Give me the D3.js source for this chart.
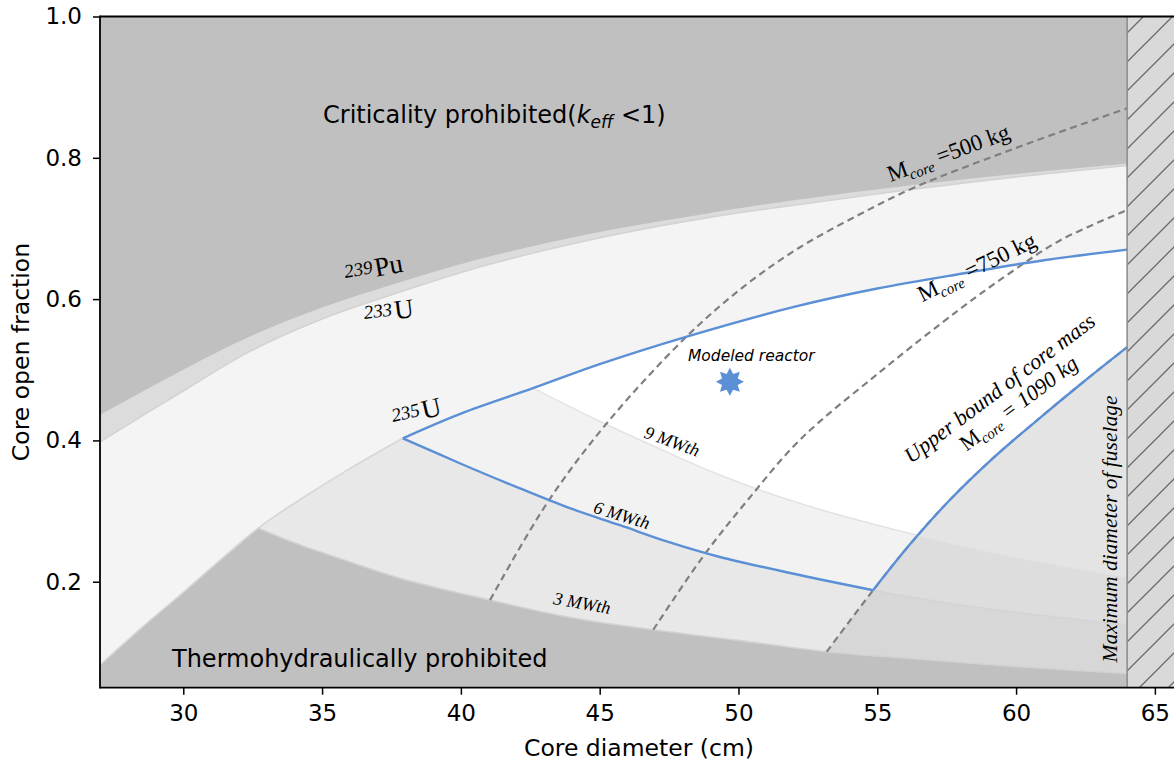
<!DOCTYPE html>
<html>
<head>
<meta charset="utf-8">
<script src="https://cdn.jsdelivr.net/npm/d3@7"></script>
<style>
  body { margin: 0; background: #fff; }
  svg text { font-family: "DejaVu Sans", sans-serif; fill: #000; }
  svg .serif { font-family: "Liberation Serif", "DejaVu Serif", serif; }
</style>
</head>
<body>
<svg id="chart"></svg>
<script>
// values: [core diameter (cm), core open fraction]
var pu239Edge = [[27,0.436],[30,0.50],[32.4,0.547],[35,0.588],[37.8,0.624],[41,0.66],[45.4,0.698],[49,0.722],[52.2,0.741],[56,0.760],[60,0.777],[64,0.792]];
var u233Edge  = [[27,0.398],[30,0.47],[32.4,0.526],[35,0.572],[37.8,0.610],[41,0.649],[45.4,0.690],[49,0.716],[52.2,0.734],[56,0.754],[60,0.773],[64,0.789]];
var u235Edge  = [[27,0.082],[28.5,0.135],[30,0.185],[32.7,0.276],[34.2,0.316],[36,0.36],[37.91,0.403],[40,0.438],[42.6,0.474],[45,0.508],[48.14,0.547],[52,0.589],[55,0.615],[58.2,0.637],[61,0.655],[64,0.670]];
var power9 = [[42.6,0.474],[44.9,0.429],[47,0.391],[49.33,0.351],[52.2,0.311],[56,0.27],[60,0.235],[64,0.207]];
var power6 = [[37.91,0.403],[40,0.367],[42.13,0.332],[44,0.303],[45.73,0.28],[47.5,0.256],[49.33,0.235],[52.2,0.2095],[54.85,0.188],[58,0.167],[61,0.152],[64,0.139]];
var power3 = [[32.7,0.276],[34,0.255],[36,0.228],[37.8,0.205],[41.05,0.174],[44,0.149],[46.93,0.132],[50,0.117],[53.2,0.101],[56,0.092],[60,0.080],[64,0.070]];
var mass500  = [[41.05,0.174],[43.1,0.311],[45.25,0.424],[48.13,0.547],[50.2,0.618],[52.2,0.673],[54.37,0.72],[56.28,0.757],[60,0.814],[64,0.870]];
var mass750  = [[46.93,0.132],[48.73,0.236],[50.3,0.314],[52.22,0.401],[55.1,0.497],[57.98,0.586],[59.78,0.637],[61.58,0.683],[64,0.726]];
var mass1090 = [[53.18,0.101],[54.85,0.188],[56.2,0.254],[57.62,0.316],[59.2,0.376],[60.86,0.432],[62.4,0.482],[64,0.532]];
var modeledReactor = [49.69, 0.483];
var fuselageMax = 64;
var xTicks = [30,35,40,45,50,55,60,65];
var yTicks = [0.2,0.4,0.6,0.8,1.0];

var width = 1174, height = 762;
var padL = 100, padT = 16.5, padB = 687.7;

var svg = d3.select("#chart").attr("width", width).attr("height", height);

var x = d3.scaleLinear().domain([27, 65.85]).range([padL, padL + 38.85 * 27.76]);
var y = d3.scaleLinear().domain([0.05, 1.0]).range([padB, padT]);

var line = d3.line().x(function(d){ return x(d[0]); }).y(function(d){ return y(d[1]); }).curve(d3.curveCatmullRom.alpha(0.5));
var under = d3.area().x(function(d){ return x(d[0]); }).y0(padB).y1(function(d){ return y(d[1]); }).curve(d3.curveCatmullRom.alpha(0.5));

// joins several point lists into one path
function chain() {
  return Array.from(arguments).map(function(p, i){
    var s = line(p);
    return i ? s.replace(/^M/, "L") : s;
  }).join("");
}
function from(pts, a, b) { return pts.filter(function(d){ return d[0] >= a && d[0] <= b; }); }

var defs = svg.append("defs");
defs.append("clipPath").attr("id", "plot").append("rect")
  .attr("x", padL).attr("y", padT).attr("width", width - padL).attr("height", padB - padT);
var hatch = defs.append("pattern").attr("id", "hatch").attr("patternUnits", "userSpaceOnUse")
  .attr("width", 29).attr("height", 29);
hatch.append("rect").attr("width", 29).attr("height", 29).attr("fill", "#d9d9d9");
hatch.append("path").attr("d", "M-2,2 L2,-2 M0,29 L29,0 M27,31 L31,27")
  .attr("stroke", "#6a6a6a").attr("stroke-width", 1.3);

var g = svg.append("g").attr("clip-path", "url(#plot)");

// regions
g.append("rect").attr("x", padL).attr("y", padT).attr("width", width - padL).attr("height", padB - padT).attr("fill", "#c0c0c0");
g.append("path").attr("d", under(pu239Edge)).attr("fill", "#dcdcdc");
g.append("path").attr("d", under(u233Edge)).attr("fill", "#f4f4f4");
g.append("path").attr("d", under(u235Edge)).attr("fill", "#f2f2f2");
g.append("path").attr("d", chain(from(u235Edge, 42.6, 64), power9.slice().reverse()) + "Z").attr("fill", "#ffffff");
g.append("path").attr("d", chain(from(u235Edge, 32.7, 37.91), power6) + "L" + x(64) + "," + padB + "L" + x(32.7) + "," + padB + "Z").attr("fill", "#e8e8e8");
g.append("path").attr("d", chain(from(u235Edge, 27, 32.7), power3) + "L" + x(64) + "," + padB + "L" + x(27) + "," + padB + "Z").attr("fill", "#c0c0c0");
g.append("path").attr("d", chain(mass1090, from(power3, 53.1, 64).reverse()) + "Z").attr("fill", "#c4c4c4").attr("fill-opacity", 0.45);

// faint region edges
[[u233Edge, "#d3d3d3"], [from(u235Edge, 27, 37.91), "#d6d6d6"], [power9, "#e3e3e3"], [from(power6, 54.85, 64), "#d4d4d4"], [power3, "#d2d2d2"]]
  .forEach(function(e){
    g.append("path").attr("d", line(e[0])).attr("fill", "none").attr("stroke", e[1]).attr("stroke-width", 1.6);
  });

// core mass contours
[mass500, mass750, mass1090].forEach(function(m){
  g.append("path").attr("d", line(m)).attr("fill", "none")
    .attr("stroke", "#7f7f7f").attr("stroke-width", 2.2).attr("stroke-dasharray", "7,4.5");
});

// design window
var blue = "#5b8fd6";
[from(u235Edge, 37.91, 64), from(power6, 37.91, 54.85), from(mass1090, 54.85, 64)].forEach(function(b){
  g.append("path").attr("d", line(b)).attr("fill", "none").attr("stroke", blue).attr("stroke-width", 2.4);
});

// modeled reactor star
var star = d3.range(16).map(function(i){
  var r = i % 2 ? 8.5 : 14, a = i * Math.PI / 8 - Math.PI / 2;
  return [r * Math.cos(a), r * Math.sin(a)];
});
g.append("path").attr("d", "M" + star.join("L") + "Z")
  .attr("transform", "translate(" + x(modeledReactor[0]) + "," + y(modeledReactor[1]) + ")")
  .attr("fill", blue);

// fuselage limit
g.append("rect").attr("x", x(fuselageMax)).attr("y", padT).attr("width", width - x(fuselageMax)).attr("height", padB - padT)
  .attr("fill", "url(#hatch)");
g.append("line").attr("x1", x(fuselageMax)).attr("x2", x(fuselageMax)).attr("y1", padT).attr("y2", padB)
  .attr("stroke", "#8a8a8a").attr("stroke-width", 1.5);

// annotations
var t = svg.append("text").attr("x", 323).attr("y", 123).style("font-size", "24px");
t.append("tspan").text("Criticality prohibited(");
t.append("tspan").attr("font-style", "italic").text("k");
t.append("tspan").attr("font-style", "italic").attr("dy", 5).style("font-size", "17px").text("eff");
t.append("tspan").attr("dy", -5).text(" <1)");

svg.append("text").attr("x", 172).attr("y", 667).style("font-size", "24px").text("Thermohydraulically prohibited");
svg.append("text").attr("x", 688).attr("y", 361).style("font-size", "15.5px").attr("font-style", "italic").text("Modeled reactor");

function isotope(px, py, ang, num, sym) {
  var s = svg.append("text").attr("class", "serif").attr("transform", "translate(" + px + "," + py + ") rotate(" + ang + ")");
  s.append("tspan").attr("font-style", "italic").style("font-size", "19px").attr("dy", -4).text(num);
  s.append("tspan").style("font-size", "27px").attr("dy", 4).attr("dx", 2).text(sym);
}
isotope(346, 282, -10, "239", "Pu");
isotope(365, 323, -7, "233", "U");
isotope(394, 426, -13, "235", "U");

function power(px, py, ang, txt) {
  svg.append("text").attr("class", "serif").attr("font-style", "italic").style("font-size", "18px")
    .attr("text-anchor", "middle").attr("transform", "translate(" + px + "," + py + ") rotate(" + ang + ")").text(txt);
}
power(670, 447, 20, "9 MWth");
power(620, 521, 17, "6 MWth");
power(581, 609, 10, "3 MWth");

function massLabel(px, py, ang, txt) {
  var s = svg.append("text").attr("class", "serif").style("font-size", "23px")
    .attr("text-anchor", "middle").attr("transform", "translate(" + px + "," + py + ") rotate(" + ang + ")");
  s.append("tspan").text("M");
  s.append("tspan").attr("font-style", "italic").style("font-size", "15px").attr("dy", 5).text("core");
  s.append("tspan").attr("dy", -5).text(" =" + txt);
  return s;
}
massLabel(951, 160, -20, "500 kg");
massLabel(980, 274, -26, "750 kg");

svg.append("text").attr("class", "serif").attr("font-style", "italic").style("font-size", "22px")
  .attr("text-anchor", "middle").attr("transform", "translate(1004,394) rotate(-37)").text("Upper bound of core mass");
var m2 = svg.append("text").attr("class", "serif").attr("font-style", "italic").style("font-size", "22px")
  .attr("text-anchor", "middle").attr("transform", "translate(1023,409) rotate(-37)");
m2.append("tspan").attr("font-style", "normal").text("M");
m2.append("tspan").style("font-size", "15px").attr("dy", 5).text("core");
m2.append("tspan").attr("dy", -5).text(" = 1090 kg");

svg.append("text").attr("class", "serif").attr("font-style", "italic").style("font-size", "21.5px")
  .attr("text-anchor", "middle").attr("transform", "translate(1117,529) rotate(-90)").text("Maximum diameter of fuselage");

// axes
var xAxis = svg.append("g").attr("transform", "translate(0," + padB + ")")
  .call(d3.axisBottom(x).tickValues(xTicks).tickSize(7).tickPadding(10));
var yAxis = svg.append("g").attr("transform", "translate(" + padL + ",0)")
  .call(d3.axisLeft(y).tickValues(yTicks).tickSize(7).tickPadding(11).tickFormat(d3.format(".1f")));
[xAxis, yAxis].forEach(function(a){
  a.select(".domain").remove();
  a.selectAll("line").attr("stroke", "#000").attr("stroke-width", 1.5);
  a.selectAll("text").style("font-size", "23px").style("font-family", "DejaVu Sans, sans-serif").attr("fill", "#000");
});

svg.append("line").attr("x1", padL).attr("x2", width).attr("y1", padT).attr("y2", padT).attr("stroke", "#000").attr("stroke-width", 1.8);
svg.append("line").attr("x1", padL).attr("x2", width).attr("y1", padB).attr("y2", padB).attr("stroke", "#000").attr("stroke-width", 1.8);
svg.append("line").attr("x1", padL).attr("x2", padL).attr("y1", padT - 0.9).attr("y2", padB + 0.9).attr("stroke", "#000").attr("stroke-width", 1.8);

svg.append("text").attr("x", 639).attr("y", 756).attr("text-anchor", "middle").style("font-size", "23.5px").text("Core diameter (cm)");
svg.append("text").attr("transform", "translate(29,352) rotate(-90)").attr("text-anchor", "middle").style("font-size", "23.5px").text("Core open fraction");
</script>
</body>
</html>
